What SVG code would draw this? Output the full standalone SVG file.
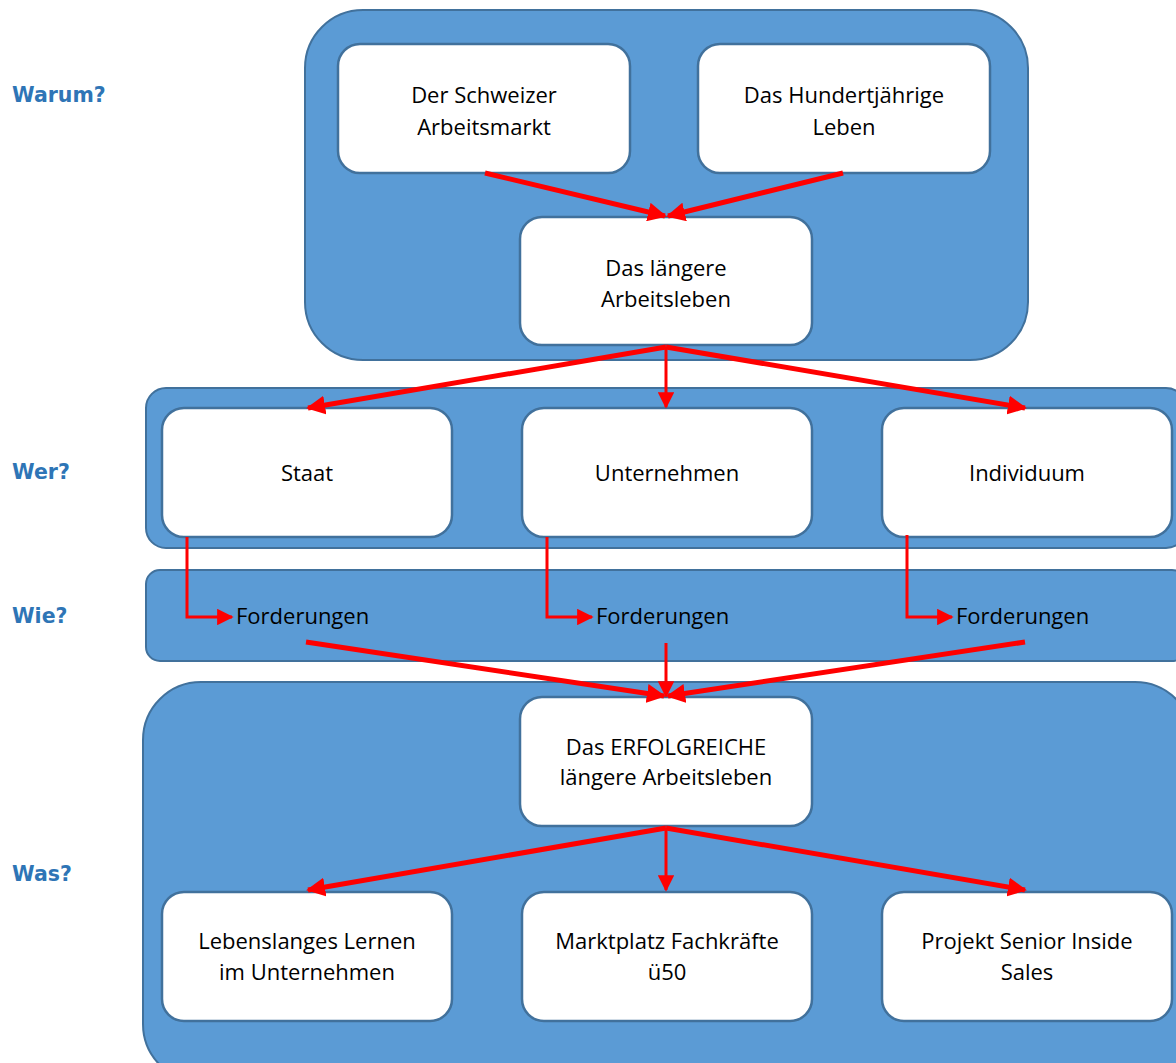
<svg xmlns="http://www.w3.org/2000/svg" width="1176" height="1063" viewBox="0 0 1176 1063">
<style>
.grp{fill:#5B9BD5;stroke:#41719C;stroke-width:2}
.box{fill:#FFFFFF;stroke:#41719C;stroke-width:2.5}
.t{font-family:"Open Sans","Liberation Sans",sans-serif;font-size:22px;fill:#000;text-anchor:middle}
.tl{font-family:"Open Sans","Liberation Sans",sans-serif;font-size:22px;fill:#000}
.lab{font-family:"DejaVu Sans","Liberation Sans",sans-serif;font-weight:bold;font-size:20.5px;fill:#2E75B6}
.c{fill:none;stroke:#FF0000;stroke-width:5}
.c2{fill:none;stroke:#FF0000;stroke-width:3}
</style>
<defs>
<marker id="ah" viewBox="0 0 10 10" refX="9" refY="5" markerWidth="3.8" markerHeight="3.8" orient="auto" markerUnits="strokeWidth"><path d="M0,0 L10,5 L0,10 z" fill="#FF0000"/></marker>
<marker id="ah2" viewBox="0 0 10 10" refX="9" refY="5" markerWidth="5.5" markerHeight="5.5" orient="auto" markerUnits="strokeWidth"><path d="M0,0 L10,5 L0,10 z" fill="#FF0000"/></marker>
</defs>
<rect width="1176" height="1063" fill="#FFFFFF"/>
<g id="labels">
<text class="lab" x="12" y="102">Warum?</text>
<text class="lab" x="12" y="479">Wer?</text>
<text class="lab" x="12" y="623">Wie?</text>
<text class="lab" x="12" y="881">Was?</text>
</g>
<g id="group-warum"><rect class="grp" x="305" y="10" width="723" height="350" rx="58"/></g>
<g id="group-wer"><rect class="grp" x="146" y="388" width="1040" height="160" rx="20"/></g>
<g id="group-wie"><rect class="grp" x="146" y="570" width="1040" height="91" rx="14"/></g>
<g id="group-was"><rect class="grp" x="143" y="682" width="1050" height="400" rx="58"/></g>

<g id="n-schweizer"><rect class="box" x="338" y="44" width="292" height="129" rx="22"/>
<text class="t" x="484" y="103">Der Schweizer</text><text class="t" x="484" y="135">Arbeitsmarkt</text></g>
<g id="n-hundert"><rect class="box" x="698" y="44" width="292" height="129" rx="22"/>
<text class="t" x="844" y="103">Das Hundertjährige</text><text class="t" x="844" y="135">Leben</text></g>
<g id="n-laenger"><rect class="box" x="520" y="217" width="292" height="128" rx="22"/>
<text class="t" x="666" y="276">Das längere</text><text class="t" x="666" y="307">Arbeitsleben</text></g>

<g id="n-staat"><rect class="box" x="162" y="408" width="290" height="129" rx="22"/>
<text class="t" x="307" y="481">Staat</text></g>
<g id="n-unternehmen"><rect class="box" x="522" y="408" width="290" height="129" rx="22"/>
<text class="t" x="667" y="481">Unternehmen</text></g>
<g id="n-individuum"><rect class="box" x="882" y="408" width="290" height="129" rx="22"/>
<text class="t" x="1027" y="481">Individuum</text></g>

<g id="n-ford1"><text class="tl" x="236" y="624">Forderungen</text></g>
<g id="n-ford2"><text class="tl" x="596" y="624">Forderungen</text></g>
<g id="n-ford3"><text class="tl" x="956" y="624">Forderungen</text></g>

<g id="n-erfolg"><rect class="box" x="520" y="697" width="292" height="129" rx="22"/>
<text class="t" x="666" y="755">Das ERFOLGREICHE</text><text class="t" x="666" y="785">längere Arbeitsleben</text></g>

<g id="n-lernen"><rect class="box" x="162" y="892" width="290" height="129" rx="22"/>
<text class="t" x="307" y="949">Lebenslanges Lernen</text><text class="t" x="307" y="980">im Unternehmen</text></g>
<g id="n-markt"><rect class="box" x="522" y="892" width="290" height="129" rx="22"/>
<text class="t" x="667" y="949">Marktplatz Fachkräfte</text><text class="t" x="667" y="980">ü50</text></g>
<g id="n-senior"><rect class="box" x="882" y="892" width="290" height="129" rx="22"/>
<text class="t" x="1027" y="949">Projekt Senior Inside</text><text class="t" x="1027" y="980">Sales</text></g>

<g id="connectors">
<path class="c" d="M485,173 L665,216" marker-end="url(#ah)"/>
<path class="c" d="M843,173 L668,216" marker-end="url(#ah)"/>
<path class="c" d="M666,347 L308,408" marker-end="url(#ah)"/>
<path class="c2" d="M666,347 L666,407" marker-end="url(#ah2)"/>
<path class="c" d="M666,347 L1025,408" marker-end="url(#ah)"/>
<path class="c2" d="M187,537 L187,617 L232,617" marker-end="url(#ah2)"/>
<path class="c2" d="M547,537 L547,617 L592,617" marker-end="url(#ah2)"/>
<path class="c2" d="M907,535 L907,617 L952,617" marker-end="url(#ah2)"/>
<path class="c" d="M306,642 L664,696" marker-end="url(#ah)"/>
<path class="c2" d="M666,643 L666,696" marker-end="url(#ah2)"/>
<path class="c" d="M1025,642 L668,696" marker-end="url(#ah)"/>
<path class="c" d="M666,828 L308,890" marker-end="url(#ah)"/>
<path class="c2" d="M666,828 L666,890" marker-end="url(#ah2)"/>
<path class="c" d="M666,828 L1025,890" marker-end="url(#ah)"/>
</g>
</svg>
